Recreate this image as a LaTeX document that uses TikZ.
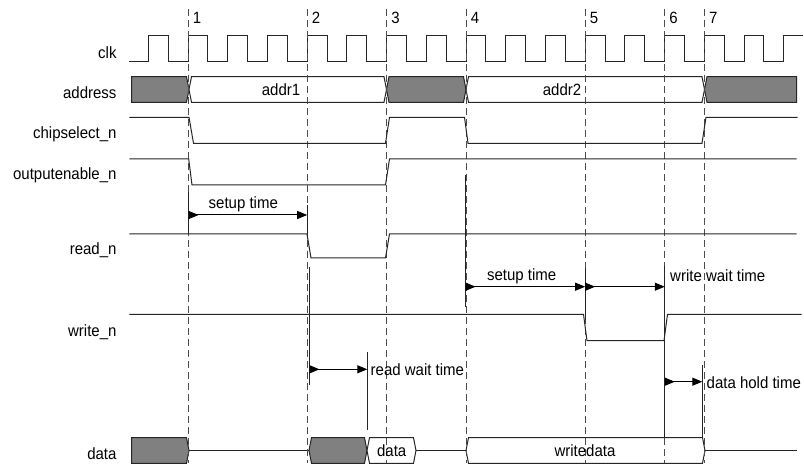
\documentclass[tikz,border=0pt]{standalone}
\usepackage{fontspec}
\setmainfont{Liberation Sans}[FakeStretch=0.92]
\usetikzlibrary{arrows.meta}
\begin{document}
\begin{tikzpicture}[x=1pt,y=-1pt,
  sig/.style={line width=1pt, draw=black!85, line join=miter},
  bus/.style={sig, fill=white},
  busgray/.style={sig, fill=black!50},
  guide/.style={line width=1pt, draw=black!70, dash pattern=on 7pt off 4pt},
  bar/.style={line width=1pt, draw=black!85},
  meas/.style={line width=1pt, draw=black, arrows={Triangle[reversed,length=10pt,width=8pt]-Triangle[length=10pt,width=8pt]}},
  lbl/.style={inner sep=0pt, font=\fontsize{16.3}{19}\selectfont},
  ]
\useasboundingbox (0,0) rectangle (804,465);
\def\xA{188.1}\def\xB{307.2}\def\xC{386.7}\def\xD{466.1}\def\xE{585.2}\def\xF{664.6}\def\xG{704.3}

% ---- signal names
\node[lbl, anchor=east] (lclk) at (116.7,53) {clk};
\node[lbl, anchor=east] (laddr) at (116.7,92.7) {address};
\node[lbl, anchor=east] (lcs) at (116.7,134.2) {chipselect\_n};
\node[lbl, anchor=east] (loe) at (116.7,175.5) {outputenable\_n};
\node[lbl, anchor=east] (lrd) at (116.7,249.8) {read\_n};
\node[lbl, anchor=east] (lwr) at (116.7,332.2) {write\_n};
\node[lbl, anchor=east] (ldata) at (116.7,453.3) {data};

% ---- clock
\draw[sig] (129.3,61.7) foreach \k in {-1,...,14} {
  -- ({188.1+39.71*\k},61.7) -- ({188.1+39.71*\k},35.7)
  -- ({188.1+39.71*\k+19.855},35.7) -- ({188.1+39.71*\k+19.855},61.7) }
  -- (783.75,61.7) -- (783.75,35.7) -- (803,35.7);

% ---- address bus
\draw[busgray] (131.7,76.7) -- (186.5,76.7) -- (189,89.5) -- (186.5,102.3) -- (131.7,102.3) -- cycle;
\draw[bus] (189,89.5) -- (191.5,76.7) -- (384,76.7) -- (386.5,89.5) -- (384,102.3) -- (191.5,102.3) -- cycle;
\draw[busgray] (386.5,89.5) -- (389,76.7) -- (463.5,76.7) -- (466,89.5) -- (463.5,102.3) -- (389,102.3) -- cycle;
\draw[bus] (466,89.5) -- (468.5,76.7) -- (702,76.7) -- (704.5,89.5) -- (702,102.3) -- (468.5,102.3) -- cycle;
\draw[busgray] (704.5,89.5) -- (707,76.7) -- (796.7,76.7) -- (796.7,102.3) -- (707,102.3) -- cycle;

% ---- data bus
\draw[busgray] (131.7,437.7) -- (186.5,437.7) -- (189,450.5) -- (186.5,463.3) -- (131.7,463.3) -- cycle;
\draw[sig] (189,450.5) -- (309,450.5);
\draw[busgray] (309,450.5) -- (311.5,437.7) -- (364.5,437.7) -- (367,450.5) -- (364.5,463.3) -- (311.5,463.3) -- cycle;
\draw[bus] (367,450.5) -- (369.5,437.7) -- (413.5,437.7) -- (416,450.5) -- (413.5,463.3) -- (369.5,463.3) -- cycle;
\draw[sig] (416,450.5) -- (466,450.5);
\draw[bus] (466,450.5) -- (468.5,437.7) -- (702.5,437.7) -- (705,450.5) -- (702.5,463.3) -- (468.5,463.3) -- cycle;
\draw[sig] (705,450.5) -- (796.7,450.5);

% ---- guide lines
\foreach \x/\n in {\xA/1,\xB/2,\xC/3,\xD/4,\xE/5,\xF/6,\xG/7} {
  \draw[guide] (\x,9) -- (\x,463);
  \node[lbl, anchor=west] (num\n) at (\x+4.5,18) {\n};
}

% ---- bus texts
\node[lbl] (taddr1) at (281,89.5) {addr1};
\node[lbl] (taddr2) at (562,89.5) {addr2};
\node[lbl] (tdata) at (391.7,450.5) {data};
\node[lbl] (twdata) at (585,450.5) {writedata};

% ---- control signals
\draw[sig] (129.3,117.3) -- (189,117.3) -- (193.5,143.3) -- (385.5,143.3) -- (389.5,117.3)
  -- (464.5,117.3) -- (468,143.3) -- (702,143.3) -- (706,117.3) -- (797.5,117.3);
\draw[sig] (129.3,159) -- (188.7,159) -- (192,185) -- (385.5,185) -- (389.5,159) -- (796.7,159);
\draw[sig] (129.3,234) -- (307,234) -- (311,258) -- (385.5,258) -- (389.5,234) -- (796.7,234);
\draw[sig] (129.3,314.3) -- (583.5,314.3) -- (587,340.7) -- (664,340.7) -- (667.5,314.3) -- (801.7,314.3);

% ---- timing bars
\draw[bar] (188.6,192) -- (188.6,234);
\draw[bar] (307.2,205) -- (307.2,234);
\draw[bar] (309.5,266.7) -- (309.5,385);
\draw[bar] (367.3,351.7) -- (367.3,430);
\draw[bar] (465.6,175) -- (465.6,306.7);
\draw[bar] (585.2,268) -- (585.2,320);
\draw[bar] (664.8,266) -- (664.8,437.7);
\draw[bar] (702.3,365) -- (702.3,437.7);

% ---- measurements
\coordinate (s1a) at (188.6,215);
\coordinate (s1b) at (307.2,215);
\coordinate (rwa) at (309.5,369.3);
\coordinate (rwb) at (367.3,369.3);
\coordinate (s2a) at (465.6,286.7);
\coordinate (s2b) at (585.2,286.7);
\coordinate (wwb) at (664.8,286.7);
\coordinate (dha) at (664.8,381.7);
\coordinate (dhb) at (702.3,381.7);
\draw[meas] (s1a) -- (s1b);
\draw[meas] (rwa) -- (rwb);
\draw[meas] (s2a) -- (s2b);
\draw[meas] (s2b) -- (wwb);
\draw[meas] (dha) -- (dhb);

\node[lbl] (tsetup1) at (243.3,204.5) {setup time};
\node[lbl] (tsetup2) at (521.7,276) {setup time};
\node[lbl, anchor=west] (twwait) at (670,275.5) {write wait time};
\node[lbl, anchor=west] (trwait) at (370.5,369.3) {read wait time};
\node[lbl, anchor=west] (tdhold) at (706.5,382.5) {data hold time};
\end{tikzpicture}
\end{document}
